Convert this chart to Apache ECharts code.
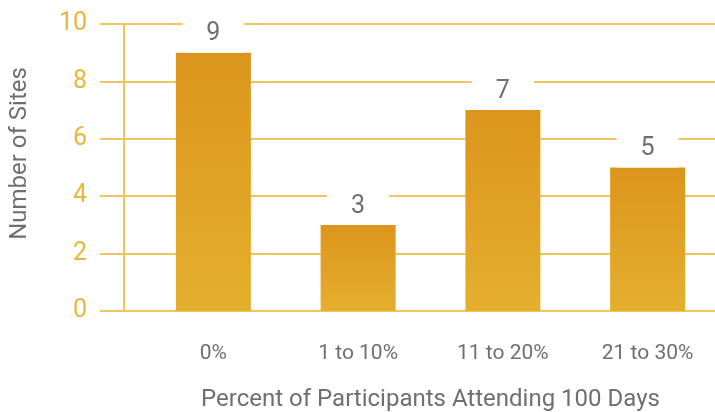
<!DOCTYPE html>
<html>
<head>
<meta charset="utf-8">
<script src="https://cdn.jsdelivr.net/npm/echarts@6/dist/echarts.min.js"></script>
<style>
  html, body { margin: 0; padding: 0; background: #fff; }
  #chart { width: 715px; height: 412px; }
</style>
</head>
<body>
<div id="chart"></div>
<script>
// data
var categories = ['0%', '1 to 10%', '11 to 20%', '21 to 30%'];
var siteCounts = [9, 3, 7, 5];
var yTicks = { min: 0, max: 10, interval: 2 };

var FONT = 'Roboto, sans-serif';
var GOLD = '#E9B83A';
var GRID_GOLD = '#F0C560';
var GRAY = '#6f6f6f';

var chart = echarts.init(document.getElementById('chart'));

var option = {
    animation: false,
    textStyle: { fontFamily: FONT },
    grid: [
        // wide grid only for the split lines and tick labels
        { left: 100, right: -4, top: 24, bottom: 101, outerBoundsMode: 'none' },
        // grid holding the bars
        { left: 141, right: -5, top: 24, bottom: 101, outerBoundsMode: 'none' }
    ],
    xAxis: [
        { gridIndex: 0, type: 'category', data: categories, show: false },
        {
            gridIndex: 1,
            type: 'category',
            data: categories,
            axisLine: { show: false },
            axisTick: { show: false },
            axisLabel: { color: GRAY, fontSize: 21, margin: 32, fontFamily: FONT },
            name: 'Percent of Participants Attending 100 Days',
            nameLocation: 'middle',
            nameGap: 77,
            nameTextStyle: { color: GRAY, fontSize: 24, fontFamily: FONT }
        }
    ],
    yAxis: [
        {
            gridIndex: 0,
            type: 'value',
            min: yTicks.min,
            max: yTicks.max,
            interval: yTicks.interval,
            axisLine: { show: false },
            axisTick: { show: false },
            axisLabel: { color: GOLD, fontSize: 25, margin: 13, fontFamily: FONT },
            splitLine: { lineStyle: { color: GRID_GOLD, width: 2 } },
            name: 'Number of Sites',
            nameLocation: 'middle',
            nameGap: 68,
            nameTextStyle: { color: GRAY, fontSize: 24, fontFamily: FONT, padding: [0, 0, 0, 28] }
        },
        {
            gridIndex: 1,
            type: 'value',
            min: yTicks.min,
            max: yTicks.max,
            interval: yTicks.interval,
            offset: 17,
            axisLine: { show: true, lineStyle: { color: GRID_GOLD, width: 2 } },
            axisTick: { show: false },
            axisLabel: { show: false },
            splitLine: { show: false }
        }
    ],
    series: [
        {
            type: 'bar',
            xAxisIndex: 1,
            yAxisIndex: 1,
            data: siteCounts,
            barWidth: 75,
            z: 3,
            itemStyle: {
                color: new echarts.graphic.LinearGradient(0, 0, 0, 1, [
                    { offset: 0, color: '#DC951C' },
                    { offset: 1, color: '#E5AF2E' }
                ])
            },
            label: {
                show: true,
                position: 'top',
                distance: 0,
                color: GRAY,
                fontSize: 25,
                fontFamily: FONT,
                backgroundColor: '#fff',
                width: 62,
                align: 'center',
                padding: [5, 0, 6, 0]
            }
        }
    ]
};

chart.setOption(option);
</script>
</body>
</html>
